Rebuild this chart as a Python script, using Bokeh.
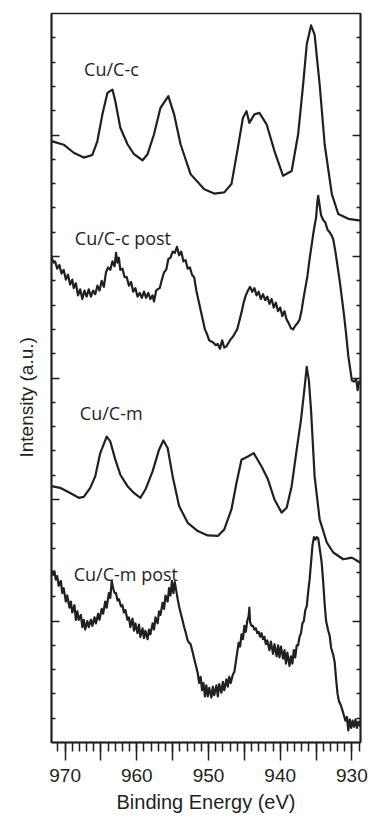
from bokeh.plotting import figure
from bokeh.models import Range1d, FixedTicker, LinearAxis, Title, ColumnDataSource
from bokeh.core.properties import value
from bokeh.embed import file_html
from bokeh.resources import INLINE

# ---------------- data (binding energy in eV, intensity in arbitrary offset units) -------------
cuc_x = [971.9, 970.2, 968.8, 967.4, 966.2, 965.5, 964.8, 964.1, 963.4, 963.0, 962.3, 961.3,
         960.4, 959.2, 958.5, 957.6, 956.7, 955.6, 954.8, 953.9, 952.5, 950.6, 949.2, 947.8,
         946.8, 945.9, 945.2, 944.7, 944.3, 943.6, 942.9, 941.9, 940.8, 939.6, 938.4, 937.5,
         936.8, 936.3, 935.7, 935.2, 934.5, 933.8, 932.8, 931.9, 930.5, 928.8]
cuc_y = [24.75, 24.6, 24.27, 24.07, 24.18, 24.75, 25.85, 26.73, 26.87, 26.39, 25.3, 24.62,
         24.21, 23.96, 24.21, 25.03, 26.12, 26.6, 25.85, 24.62, 23.39, 22.77, 22.59, 22.64,
         22.98, 24.48, 25.71, 25.98, 25.5, 25.85, 25.91, 25.44, 24.34, 23.32, 23.52, 25.03,
         27.08, 28.72, 29.51, 29.13, 27.08, 24.62, 22.57, 21.75, 21.55, 21.48]

cucpost_x = [971.9, 971.6, 971.4, 971.1, 970.8, 970.5, 970.2, 969.9, 969.6, 969.3, 969.0, 968.8,
             968.5, 968.2, 967.9, 967.6, 967.3, 967.0, 966.7, 966.4, 966.1, 965.8, 965.5, 965.2,
             964.9, 964.6, 964.3, 964.0, 963.7, 963.4, 963.1, 962.9, 962.7, 962.5, 962.3, 962.0,
             961.7, 961.4, 961.1, 960.8, 960.5, 960.2, 959.9, 959.6, 959.3, 959.0, 958.7, 958.4,
             958.1, 957.8, 957.6, 957.3, 957.1, 956.8, 956.5, 956.2, 955.9, 955.6, 955.3, 955.0,
             954.7, 954.4, 954.1, 953.8, 953.5, 953.2, 952.9, 952.6, 952.3, 952.0, 951.7, 951.4,
             951.1, 950.8, 950.5, 950.2, 949.9, 949.6, 949.3, 949.0, 948.7, 948.4, 948.1, 947.8,
             947.5, 947.2, 946.9, 946.6, 946.3, 946.0, 945.7, 945.4, 945.1, 944.8, 944.5, 944.2,
             943.9, 943.6, 943.3, 943.0, 942.7, 942.4, 942.1, 941.8, 941.5, 941.2, 940.9, 940.6,
             940.3, 940.0, 939.7, 939.4, 939.1, 938.8, 938.5, 938.2, 937.9, 937.6, 937.3, 937.0,
             936.8, 936.5, 936.2, 935.9, 935.6, 935.3, 935.0, 934.8, 934.7, 934.5, 934.3, 934.0,
             933.7, 933.4, 933.1, 932.8, 932.6, 932.3, 932.0, 931.7, 931.4, 931.1, 930.8, 930.5,
             930.2, 930.0, 929.7, 929.4, 929.2, 929.0, 928.8]
cucpost_y = [19.97, 19.75, 19.8, 19.5, 19.65, 19.3, 19.45, 19.05, 19.25, 18.85, 19.05, 18.7,
             18.9, 18.4, 18.65, 18.25, 18.6, 18.35, 18.65, 18.35, 18.6, 18.45, 18.8, 18.6,
             19.0, 18.75, 19.35, 19.55, 19.45, 19.8, 19.6, 20.15, 19.75, 19.95, 19.45, 19.5,
             19.15, 19.15, 18.8, 18.95, 18.55, 18.7, 18.35, 18.5, 18.3, 18.55, 18.3, 18.5,
             18.25, 18.4, 18.15, 18.6, 18.65, 18.7, 19.05, 19.35, 19.45, 19.9, 19.95, 20.2,
             20.15, 20.4, 20.05, 20.2, 19.8, 19.85, 19.5, 19.55, 19.25, 19.15, 18.6, 18.2,
             17.8, 17.4, 17.0, 16.8, 16.55, 16.5, 16.45, 16.35, 16.4, 16.2, 16.55, 16.25,
             16.3, 16.45, 16.6, 16.7, 16.85, 17.0, 17.35, 17.7, 18.1, 18.4, 18.6, 18.75,
             18.55, 18.7, 18.4, 18.55, 18.25, 18.45, 18.2, 18.35, 18.05, 18.25, 17.9, 18.1,
             17.75, 17.9, 17.55, 17.75, 17.4, 17.25, 17.05, 17.0, 17.15, 17.25, 17.4, 17.8,
             18.2, 18.7, 19.2, 19.9, 20.5, 21.1, 21.6, 22.3, 22.5, 22.1, 21.7, 21.5,
             21.4, 21.1, 21.0, 20.85, 20.7, 20.2, 19.6, 19.0, 18.3, 17.6, 16.8, 15.9,
             15.3, 14.9, 14.85, 14.95, 14.5, 14.85, 14.8]

cum_x = [971.9, 970.7, 969.3, 968.1, 967.4, 966.5, 965.8, 965.1, 964.2, 963.7, 963.0, 962.3,
         961.3, 960.4, 959.5, 958.8, 957.8, 956.9, 956.3, 955.7, 955.0, 954.1, 952.9, 951.5,
         950.1, 948.7, 947.8, 946.8, 946.1, 945.4, 944.5, 943.7, 942.6, 941.7, 940.8, 939.8,
         939.1, 938.4, 937.7, 937.1, 936.6, 936.3, 936.0, 935.7, 935.2, 934.5, 933.5, 932.6,
         931.2, 930.0, 928.8]
cum_y = [10.55, 10.48, 10.27, 10.07, 10.11, 10.48, 10.95, 11.91, 12.59, 12.39, 11.64, 11.02,
         10.55, 10.27, 10.07, 10.41, 11.16, 12.05, 12.43, 12.12, 10.95, 9.73, 9.04, 8.7,
         8.52, 8.5, 8.77, 9.59, 10.68, 11.64, 11.77, 11.91, 11.36, 10.82, 10.0, 9.46,
         9.66, 10.55, 12.05, 13.28, 14.6, 15.46, 14.9, 13.69, 10.95, 9.18, 8.23, 7.82,
         7.54, 7.61, 7.4]

cumpost_x = [971.9, 971.7, 971.5, 971.3, 971.1, 970.9, 970.6, 970.4, 970.2, 969.9, 969.7, 969.4,
             969.2, 969.0, 968.7, 968.5, 968.3, 968.1, 967.8, 967.6, 967.4, 967.2, 966.9, 966.7,
             966.4, 966.2, 965.9, 965.7, 965.4, 965.2, 964.9, 964.7, 964.4, 964.2, 963.9, 963.7,
             963.5, 963.3, 963.1, 962.9, 962.7, 962.5, 962.2, 962.0, 961.8, 961.6, 961.3, 961.1,
             960.9, 960.6, 960.4, 960.2, 959.9, 959.7, 959.5, 959.2, 959.0, 958.8, 958.5, 958.3,
             958.1, 957.8, 957.6, 957.4, 957.1, 956.9, 956.7, 956.4, 956.2, 956.0, 955.7, 955.5,
             955.3, 955.1, 954.9, 954.7, 954.5, 954.3, 954.1, 953.9, 953.6, 953.4, 953.2, 952.9,
             952.7, 952.5, 952.2, 952.0, 951.7, 951.5, 951.3, 951.1, 950.9, 950.7, 950.5, 950.3,
             950.1, 949.9, 949.6, 949.4, 949.2, 948.9, 948.7, 948.5, 948.2, 948.0, 947.8, 947.5,
             947.3, 947.1, 946.9, 946.6, 946.4, 946.2, 946.0, 945.8, 945.6, 945.4, 945.2, 945.0,
             944.8, 944.6, 944.4, 944.3, 944.2, 944.0, 943.8, 943.6, 943.4, 943.2, 943.0, 942.8,
             942.6, 942.4, 942.2, 942.0, 941.8, 941.5, 941.3, 941.0, 940.8, 940.5, 940.3, 940.1,
             939.9, 939.6, 939.4, 939.2, 939.0, 938.7, 938.5, 938.3, 938.1, 937.9, 937.7, 937.5,
             937.3, 937.1, 936.9, 936.7, 936.5, 936.3, 936.1, 935.9, 935.7, 935.5, 935.3, 935.1,
             934.9, 934.7, 934.5, 934.3, 934.2, 934.0, 933.8, 933.6, 933.3, 933.1, 932.9, 932.6,
             932.4, 932.2, 932.0, 931.8, 931.5, 931.3, 931.1, 930.9, 930.7, 930.5, 930.3, 930.1,
             929.9, 929.7, 929.5, 929.3, 929.1, 928.9, 928.8]
cumpost_y = [7.1, 6.9, 7.05, 6.7, 6.85, 6.45, 6.65, 6.15, 6.35, 5.8, 6.05, 5.55,
             5.8, 5.35, 5.65, 5.05, 5.4, 5.05, 5.25, 4.75, 5.05, 4.65, 5.0, 4.75,
             5.05, 4.8, 5.15, 4.9, 5.3, 5.05, 5.5, 5.3, 5.8, 5.55, 6.15, 5.95,
             6.65, 6.35, 6.15, 6.15, 5.85, 5.9, 5.6, 5.65, 5.35, 5.45, 5.05, 5.15,
             4.75, 5.1, 4.6, 4.9, 4.5, 4.85, 4.35, 4.7, 4.3, 4.6, 4.25, 4.65,
             4.45, 4.9, 4.65, 5.15, 4.9, 5.4, 5.25, 5.75, 5.5, 6.05, 5.8, 6.35,
             6.05, 6.65, 6.15, 6.6, 6.25, 5.9, 5.6, 5.35, 5.0, 4.75, 4.55, 4.2,
             4.1, 4.05, 3.7, 3.45, 3.1, 2.85, 2.45, 2.7, 2.15, 2.45, 1.9, 2.35,
             1.9, 2.25, 1.85, 2.3, 1.95, 2.35, 1.9, 2.4, 2.05, 2.5, 2.15, 2.6,
             2.3, 2.7, 2.45, 2.8, 2.9, 3.3, 3.7, 4.1, 3.95, 4.45, 4.25, 4.8,
             4.55, 5.0, 5.2, 5.55, 4.95, 4.8, 4.8, 4.65, 4.7, 4.5, 4.55, 4.35,
             4.5, 4.25, 4.35, 4.05, 4.2, 3.8, 4.15, 3.65, 4.05, 3.55, 4.0, 3.5,
             3.95, 3.45, 3.8, 3.25, 3.7, 3.15, 3.55, 3.25, 3.8, 3.5, 4.0, 4.0,
             4.35, 4.5, 4.9, 5.0, 5.45, 5.6, 6.2, 6.7, 7.4, 8.1, 8.45, 8.35,
             8.45, 8.4, 8.0, 7.6, 7.35, 6.6, 5.7, 5.0, 4.6, 4.4, 3.9, 3.6,
             3.3, 2.6, 2.0, 1.7, 1.5, 1.3, 1.1, 0.9, 1.05, 0.5, 0.95, 0.6,
             0.9, 0.65, 0.95, 0.6, 0.85, 0.7, 0.9]

series_names = ["Cu/C-c", "Cu/C-c post", "Cu/C-m", "Cu/C-m post"]
name_x = [967.35, 968.65, 967.95, 968.8]
name_y = [27.73, 20.77, 13.55, 6.93]

x_label_ticks = [930, 940, 950, 960, 970]
x_mid_ticks = [935, 945, 955, 965]
x_minor_ticks = list(range(929, 972))
y_major_ticks = [5, 10, 15, 20, 25]
y_minor_ticks = list(range(1, 30))

INK = "#231f20"

p = figure(width=368, height=819, output_backend="svg", toolbar_location=None,
           x_range=Range1d(971.9, 928.8), y_range=Range1d(0, 30),
           min_border_left=51, min_border_right=8, min_border_top=13, min_border_bottom=77,
           x_axis_location=None, y_axis_location=None)
p.background_fill_color = "white"
p.border_fill_color = "white"
p.grid.visible = False
p.outline_line_color = INK
p.outline_line_width = 1.5

for xs, ys in [(cuc_x, cuc_y), (cucpost_x, cucpost_y), (cum_x, cum_y), (cumpost_x, cumpost_y)]:
    p.line(xs, ys, line_color=INK, line_width=2.2, line_join="round")

src = ColumnDataSource(dict(x=name_x, y=name_y, t=series_names))
p.text(x="x", y="y", text="t", source=src, text_font=value("Open Sans"), text_font_size="18px",
       text_color=INK, text_align="left", text_baseline="alphabetic")


def plain_axis(minor, tick_in, tick_out):
    ax = LinearAxis(ticker=FixedTicker(ticks=[], minor_ticks=minor))
    ax.minor_tick_in = tick_in
    ax.minor_tick_out = tick_out
    ax.major_tick_in = 0
    ax.major_tick_out = 0
    ax.major_label_standoff = 0
    ax.axis_label_standoff = 0
    ax.axis_line_width = 1.5
    ax.axis_line_color = INK
    ax.minor_tick_line_width = 1.5
    ax.minor_tick_line_color = INK
    return ax

# bottom: unlabeled 5 eV ticks (zero-size axis next to frame), then labelled axis
p.add_layout(plain_axis(x_mid_ticks, -18, 0), "below")
xa = LinearAxis(ticker=FixedTicker(ticks=x_label_ticks, minor_ticks=x_minor_ticks))
xa.major_tick_out = 18
xa.major_tick_in = 0
xa.minor_tick_out = 9
xa.minor_tick_in = 0
xa.axis_line_width = 1.5
xa.major_tick_line_width = 1.5
xa.minor_tick_line_width = 1.5
xa.axis_line_color = INK
xa.major_tick_line_color = INK
xa.minor_tick_line_color = INK
xa.major_label_text_font = "Liberation Sans"
xa.major_label_text_font_size = "19px"
xa.major_label_text_color = INK
xa.major_label_standoff = 8
xa.axis_label = "Binding Energy (eV)"
xa.axis_label_text_font = "Liberation Sans"
xa.axis_label_text_font_size = "20px"
xa.axis_label_text_font_style = "normal"
xa.axis_label_text_color = INK
xa.axis_label_standoff = 6
p.add_layout(xa, "below")

# left and right: inward ticks, no labels
minor_only = [t for t in y_minor_ticks if t not in y_major_ticks]
p.add_layout(plain_axis(minor_only, 4, 0), "left")
p.add_layout(plain_axis(y_major_ticks, 8, 0), "left")
p.add_layout(plain_axis(minor_only, 4, 0), "right")
p.add_layout(plain_axis(y_major_ticks, 8, 0), "right")

ytitle = Title(text="Intensity (a.u.)", align="left", offset=285, standoff=28,
               vertical_align="middle", text_font="Liberation Sans", text_font_size="19px",
               text_font_style="normal", text_color=INK)
p.add_layout(ytitle, "left")

open("out.html", "w").write(file_html(p, INLINE))
